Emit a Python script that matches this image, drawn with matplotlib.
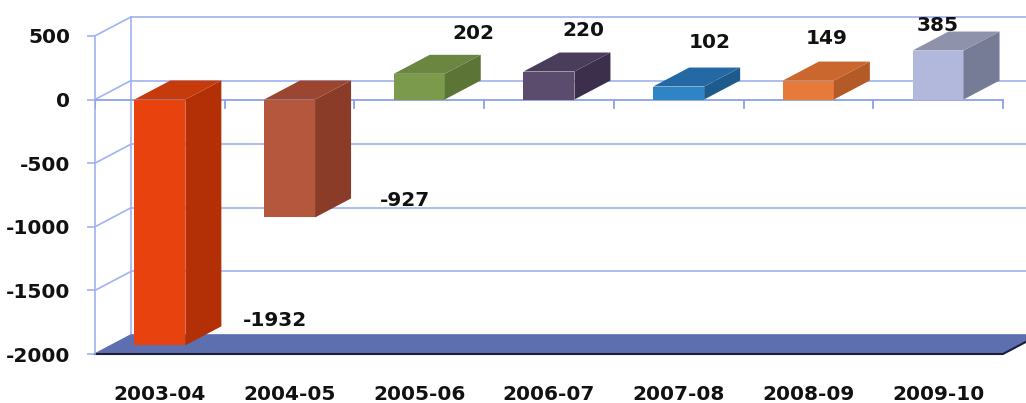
import matplotlib
matplotlib.use("Agg")
import matplotlib.pyplot as plt
import numpy as np

# ---- data ----
categories = ["2003-04", "2004-05", "2005-06", "2006-07", "2007-08", "2008-09", "2009-10"]
values = [-1932, -927, 202, 220, 102, 149, 385]
y_ticks = [-2000, -1500, -1000, -500, 0, 500]

# ---- styles ----
front_colors = ["#e8420e", "#b5573d", "#7c9a4c", "#5b4c6d", "#2e84c4", "#e67a3a", "#b1b8dc"]
side_colors = ["#b32f05", "#8a3c28", "#5c7536", "#3b2f4c", "#1d5b8c", "#b45a26", "#767b96"]
top_colors = ["#c63a0c", "#9c4631", "#6a8641", "#4a3d5c", "#2469a3", "#c9672f", "#8e93ab"]
label_dx = [0.888, 0.89, 0.414, 0.262, 0.242, 0.144, 0.0]
label_dy = [195, 133, 317, 322, 346, 330, 197]
grid_color = "#9fb3f2"

plt.rcParams['font.family'] = ['DejaVu Sans']

fig = plt.figure(figsize=(10.26, 4.03), dpi=100)
ax = fig.add_axes([95 / 1026, 49 / 403, 931 / 1026, 354 / 403])

px_x = 129.7          # pixels per category
px_y = 63.62 / 500    # pixels per value unit
x0 = -0.5
xmax = x0 + 931 / px_x
ymin = -2000
ymax = ymin + 354 / px_y
ax.set_xlim(x0, xmax)
ax.set_ylim(ymin, ymax)

dx = 36 / px_x        # depth offset in category units
dy = 19 / px_y        # depth offset in value units
n = len(categories)
xr = x0 + n           # right end of front plane
bw = 51 / px_x        # bar width

# back wall gridlines
for v in y_ticks:
    ax.plot([x0 + dx, xmax + 1], [v + dy, v + dy], color=grid_color, lw=1.2, zorder=1)
    ax.plot([x0, x0 + dx], [v, v + dy], color=grid_color, lw=1.2, zorder=1)
ax.plot([x0 + dx, x0 + dx], [ymin + dy, max(y_ticks) + dy], color=grid_color, lw=1.2, zorder=1)

# floor
floor = [(x0, ymin), (xr, ymin), (xr + dx, ymin + dy), (x0 + dx, ymin + dy)]
ax.fill([p[0] for p in floor], [p[1] for p in floor], color="#5d6fae", zorder=2, clip_on=False)
ax.plot([x0, xr, xr + dx], [ymin, ymin, ymin + dy], color="#1c2038", lw=1.5, zorder=2, clip_on=False)

# front zero line with category boundary ticks
ax.plot([x0, xr], [0, 0], color="#8aa0ea", lw=1.3, zorder=3)
for k in range(n + 1):
    ax.plot([x0 + k, x0 + k], [0, -8 / px_y], color="#8aa0ea", lw=1.3, zorder=3)

# bars
for i, v in enumerate(values):
    xl = i - bw / 2
    xrr = i + bw / 2
    lo, hi = min(0, v), max(0, v)
    ax.bar(i, v, width=bw, color=front_colors[i], zorder=5, linewidth=0)
    side = [(xrr, lo), (xrr + dx, lo + dy), (xrr + dx, hi + dy), (xrr, hi)]
    ax.fill([p[0] for p in side], [p[1] for p in side], color=side_colors[i], zorder=5, lw=0)
    top = [(xl, hi), (xrr, hi), (xrr + dx, hi + dy), (xl + dx, hi + dy)]
    ax.fill([p[0] for p in top], [p[1] for p in top], color=top_colors[i], zorder=5, lw=0)
    ax.text(i + label_dx[i], v + label_dy[i], str(v), ha="center", va="center",
            fontsize=14.5, fontweight="bold", color="#111111", zorder=7)

# axes styling
for s in ["top", "right", "bottom"]:
    ax.spines[s].set_visible(False)
ax.spines["left"].set_color(grid_color)
ax.spines["left"].set_linewidth(1.2)
ax.spines["left"].set_bounds(ymin, max(y_ticks))
ax.set_yticks(y_ticks)
ax.set_yticklabels([str(t) for t in y_ticks], fontsize=14.5, fontweight="bold", color="#111111")
ax.tick_params(axis="y", length=6, color=grid_color, width=1.2, pad=12)
ax.set_xticks(range(n))
ax.set_xticklabels(categories, fontsize=14.5, fontweight="bold", color="#111111")
ax.tick_params(axis="x", length=0, pad=22)
ax.patch.set_alpha(0)

fig.savefig("out.png", dpi=100)
